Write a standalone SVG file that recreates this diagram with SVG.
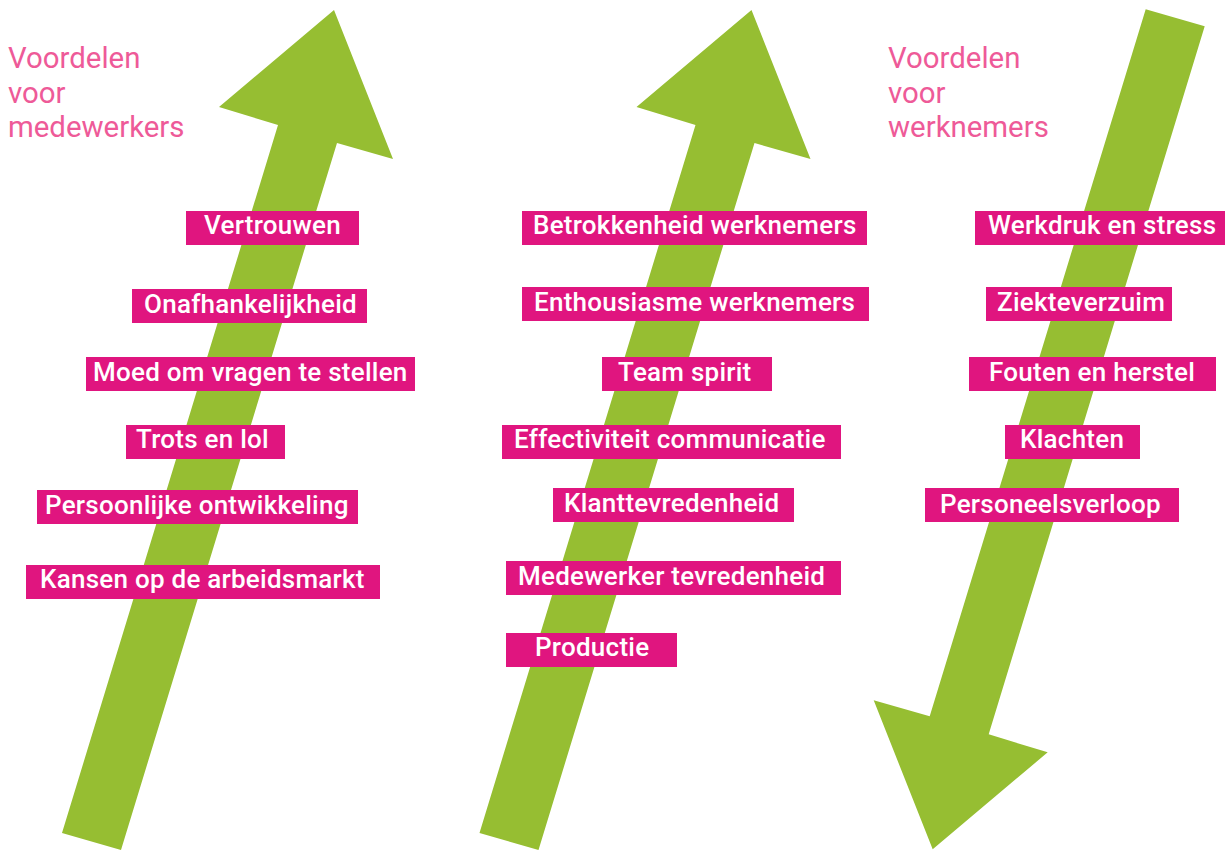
<svg xmlns="http://www.w3.org/2000/svg" xmlns:xlink="http://www.w3.org/1999/xlink" width="1225" height="850" viewBox="0 0 1225 850">
  <style>
    .arrow { fill: #96BE32; }
    .title { font-family: Roboto, "Liberation Sans", sans-serif; font-size: 29.4px; fill: #EE5A98; }
    .box { fill: #E0157F; }
    .label { font-family: Roboto, "Liberation Sans", sans-serif; font-size: 26px; font-weight: 500; letter-spacing: 0.25px; fill: #FFFFFF; }
  </style>
  <defs>
    <polygon id="arrow-up" points="334,10 393,159 337,143 121,850 62,833 278,125 219,107"/>
  </defs>

  <!-- big green arrows -->
  <g id="arrows" class="arrow">
    <use xlink:href="#arrow-up"/>
    <use xlink:href="#arrow-up" transform="translate(417.5,0)"/>
    <use xlink:href="#arrow-up" transform="rotate(180 633.35 429.65)"/>
  </g>

  <!-- column headings -->
  <g id="title-medewerkers">
    <text class="title" x="8" y="68">Voordelen</text>
    <text class="title" x="8" y="103">voor</text>
    <text class="title" x="8" y="137">medewerkers</text>
  </g>
  <g id="title-werknemers">
    <text class="title" x="888" y="68">Voordelen</text>
    <text class="title" x="888" y="103">voor</text>
    <text class="title" x="888" y="137">werknemers</text>
  </g>

  <!-- column 1 -->
  <g id="vertrouwen"><rect class="box" x="186" y="211" width="173" height="34"/><text class="label" x="204" y="234.3">Vertrouwen</text></g>
  <g id="onafhankelijkheid"><rect class="box" x="132" y="289" width="235" height="34"/><text class="label" x="144" y="312.7">Onafhankelijkheid</text></g>
  <g id="moed"><rect class="box" x="86" y="357" width="329" height="34"/><text class="label" x="93" y="380.7">Moed om vragen te stellen</text></g>
  <g id="trots"><rect class="box" x="126" y="425" width="159" height="34"/><text class="label" x="136" y="448.3">Trots en lol</text></g>
  <g id="persoonlijke"><rect class="box" x="37" y="490" width="321" height="34"/><text class="label" x="45" y="514">Persoonlijke ontwikkeling</text></g>
  <g id="kansen"><rect class="box" x="26" y="565" width="354" height="34"/><text class="label" x="40" y="588">Kansen op de arbeidsmarkt</text></g>

  <!-- column 2 -->
  <g id="betrokkenheid"><rect class="box" x="522" y="211" width="345" height="34"/><text class="label" x="533" y="234.3">Betrokkenheid werknemers</text></g>
  <g id="enthousiasme"><rect class="box" x="522" y="287" width="347" height="34"/><text class="label" x="534" y="311">Enthousiasme werknemers</text></g>
  <g id="team-spirit"><rect class="box" x="602" y="357" width="170" height="34"/><text class="label" x="618" y="380.7">Team spirit</text></g>
  <g id="effectiviteit"><rect class="box" x="502" y="425" width="339" height="34"/><text class="label" x="514" y="448.3">Effectiviteit communicatie</text></g>
  <g id="klanttevredenheid"><rect class="box" x="553" y="488" width="241" height="34"/><text class="label" x="564" y="512.3">Klanttevredenheid</text></g>
  <g id="medewerker-tevredenheid"><rect class="box" x="506" y="561" width="335" height="34"/><text class="label" x="518" y="585">Medewerker tevredenheid</text></g>
  <g id="productie"><rect class="box" x="506" y="633" width="171" height="34"/><text class="label" x="535" y="656">Productie</text></g>

  <!-- column 3 -->
  <g id="werkdruk"><rect class="box" x="975" y="211" width="250" height="34"/><text class="label" x="988" y="234.3">Werkdruk en stress</text></g>
  <g id="ziekteverzuim"><rect class="box" x="986" y="287" width="186" height="34"/><text class="label" x="997" y="311">Ziekteverzuim</text></g>
  <g id="fouten"><rect class="box" x="969" y="357" width="247" height="34"/><text class="label" x="989" y="380.7">Fouten en herstel</text></g>
  <g id="klachten"><rect class="box" x="1005" y="425" width="135" height="34"/><text class="label" x="1020" y="448.3">Klachten</text></g>
  <g id="personeelsverloop"><rect class="box" x="925" y="488" width="254" height="34"/><text class="label" x="940" y="513.3">Personeelsverloop</text></g>
</svg>
